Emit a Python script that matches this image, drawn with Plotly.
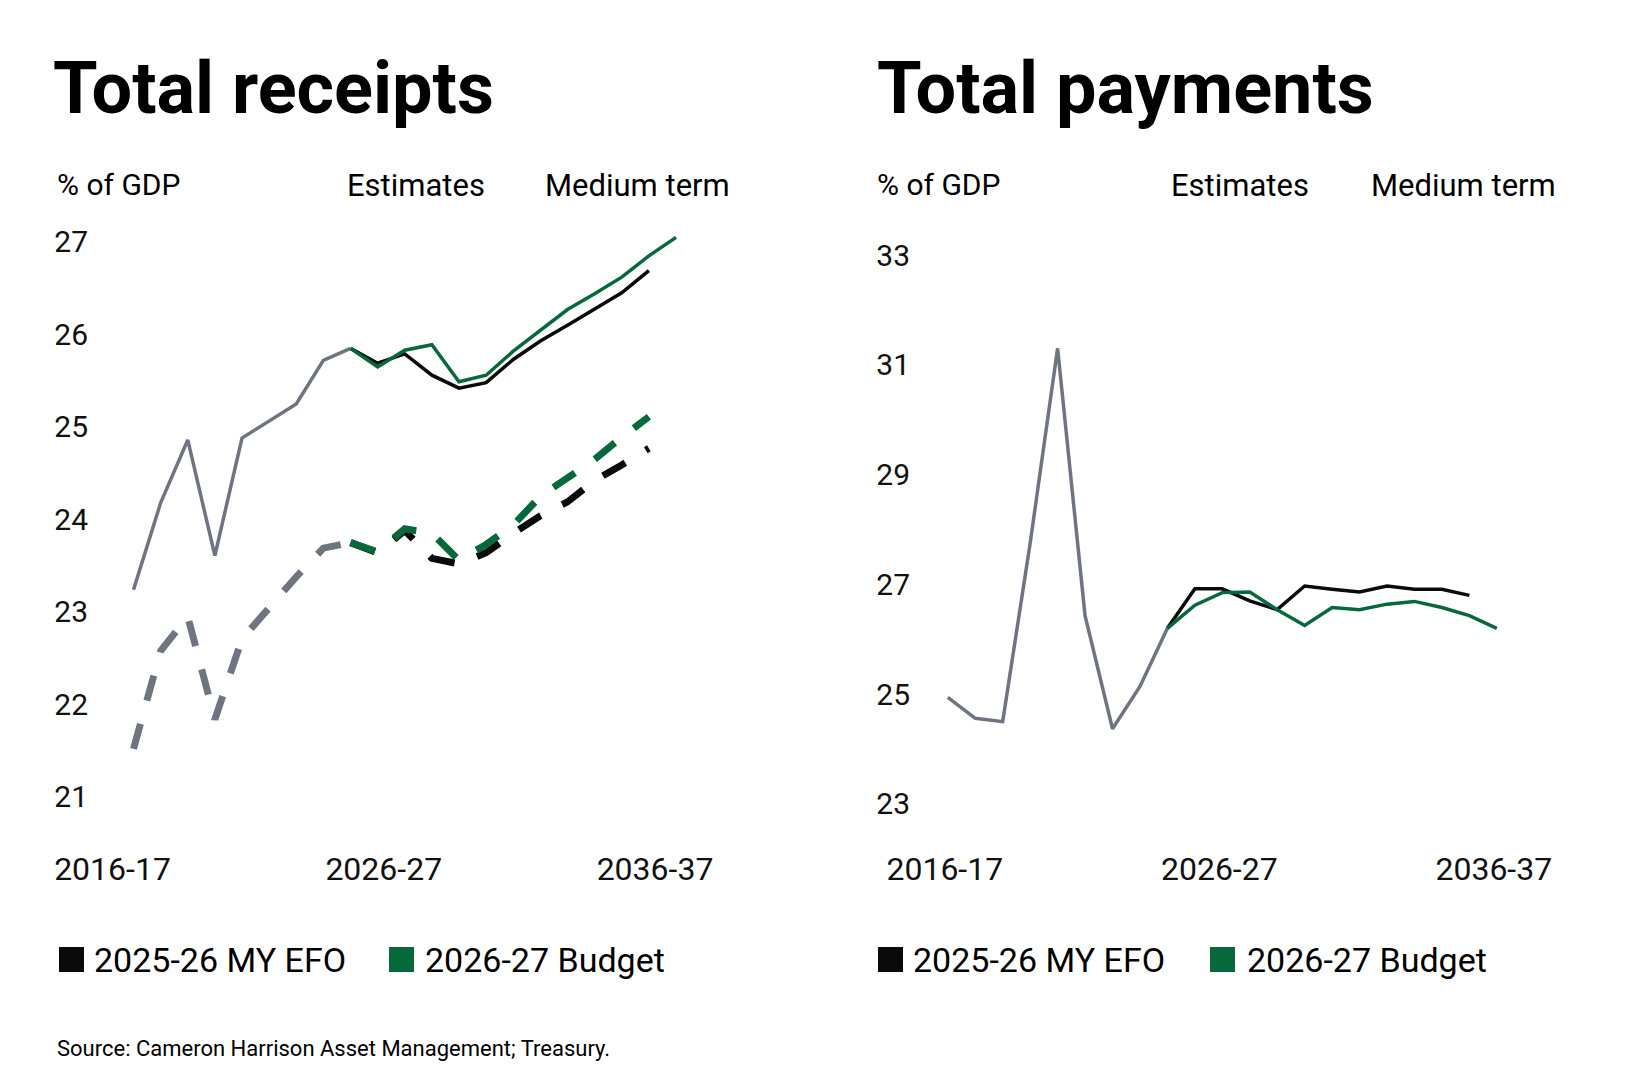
import plotly.graph_objects as go

# Años fiscales (eje x)
years = ["2016-17", "2017-18", "2018-19", "2019-20", "2020-21", "2021-22", "2022-23",
         "2023-24", "2024-25", "2025-26", "2026-27", "2027-28", "2028-29", "2029-30",
         "2030-31", "2031-32", "2032-33", "2033-34", "2034-35", "2035-36", "2036-37"]
x_ticks = ["2016-17", "2026-27", "2036-37"]

# Total receipts (% of GDP) - lineas solidas
receipts_hist = [23.24, 24.18, 24.86, 23.61, 24.88, 25.07, 25.25, 25.72, 25.85]
receipts_myefo = [25.85, 25.69, 25.79, 25.56, 25.42, 25.48, 25.73, 25.93, 26.10, 26.27, 26.45, 26.69]
receipts_budget = [25.85, 25.65, 25.83, 25.89, 25.49, 25.56, 25.82, 26.05, 26.27, 26.44, 26.62, 26.85, 27.05]

# Tax receipts (% of GDP) - lineas discontinuas
tax_hist = [21.52, 22.58, 22.95, 21.84, 22.71, 23.05, 23.38, 23.69, 23.75]
tax_myefo = [23.75, 23.64, 23.88, 23.58, 23.52, 23.64, 23.85, 24.04, 24.19, 24.42, 24.59, 24.77]
tax_budget = [23.75, 23.65, 23.90, 23.85, 23.56, 23.73, 23.94, 24.25, 24.45, 24.65, 24.89, 25.11]

# Total payments (% of GDP)
payments_hist = [24.94, 24.56, 24.50, 27.75, 31.30, 26.43, 24.37, 25.14, 26.20]
payments_myefo = [26.20, 26.92, 26.92, 26.70, 26.54, 26.97, 26.91, 26.86, 26.97, 26.91, 26.91, 26.80]
payments_budget = [26.20, 26.62, 26.85, 26.86, 26.54, 26.25, 26.58, 26.54, 26.64, 26.69, 26.58, 26.43, 26.20]

receipts_ticks = [21, 22, 23, 24, 25, 26, 27]
payments_ticks = [23, 25, 27, 29, 31, 33]

GREY = "#6e7480"
BLACK = "#0a0a0a"
GREEN = "#07693b"
FONT = "Roboto"
W, H = 1640, 1080
OFF = 8  # margen del body de la pagina html


def px(x):
    return (x - OFF) / W


def py(y):
    return 1 - (y - OFF) / H


DASH = "26px,24px"

fig = go.Figure()

# Panel izquierdo
fig.add_trace(go.Scatter(x=years[:9], y=receipts_hist, mode="lines",
                         line=dict(color=GREY, width=3.5), xaxis="x", yaxis="y"))
fig.add_trace(go.Scatter(x=years[:9], y=tax_hist, mode="lines",
                         line=dict(color=GREY, width=7, dash=DASH), xaxis="x", yaxis="y"))
fig.add_trace(go.Scatter(x=years[8:20], y=receipts_myefo, mode="lines",
                         line=dict(color=BLACK, width=3.5), xaxis="x", yaxis="y"))
fig.add_trace(go.Scatter(x=years[8:20], y=tax_myefo, mode="lines",
                         line=dict(color=BLACK, width=7, dash=DASH), xaxis="x", yaxis="y"))
fig.add_trace(go.Scatter(x=years[8:21], y=receipts_budget, mode="lines",
                         line=dict(color=GREEN, width=3.5), xaxis="x", yaxis="y"))
fig.add_trace(go.Scatter(x=years[8:20], y=tax_budget, mode="lines",
                         line=dict(color=GREEN, width=7, dash=DASH), xaxis="x", yaxis="y"))

# Panel derecho
fig.add_trace(go.Scatter(x=years[:9], y=payments_hist, mode="lines",
                         line=dict(color=GREY, width=3.5), xaxis="x2", yaxis="y2"))
fig.add_trace(go.Scatter(x=years[8:20], y=payments_myefo, mode="lines",
                         line=dict(color=BLACK, width=3.5), xaxis="x2", yaxis="y2"))
fig.add_trace(go.Scatter(x=years[8:21], y=payments_budget, mode="lines",
                         line=dict(color=GREEN, width=3.5), xaxis="x2", yaxis="y2"))

xcommon = dict(type="category", categoryorder="array", categoryarray=years,
               tickmode="array", tickvals=x_ticks, ticktext=x_ticks,
               showgrid=False, zeroline=False, showline=False, automargin=False,
               ticks="outside", ticklen=11, tickcolor="rgba(0,0,0,0)",
               tickfont=dict(family=FONT, size=32, color="#111111"))
ycommon = dict(tickmode="array", showgrid=False, zeroline=False, showline=False,
               automargin=False, ticks="",
               tickfont=dict(family=FONT, size=30, color="#111111"))

fig.update_layout(
    width=W, height=H, autosize=False,
    margin=dict(l=0, r=0, t=0, b=0, pad=0),
    paper_bgcolor="white", plot_bgcolor="white",
    showlegend=False,
    xaxis=dict(xcommon, domain=[px(89), px(700)], range=[-1.641, 20.885],
               anchor="y", ticklabelshift=-21),
    yaxis=dict(ycommon, domain=[py(830), py(200)], range=[20.643, 27.454],
               tickvals=receipts_ticks, anchor="x"),
    xaxis2=dict(xcommon, domain=[px(911), px(1560)], range=[-1.341, 22.302],
                anchor="y2", ticklabelshift=-3),
    yaxis2=dict(ycommon, domain=[py(830), py(200)], range=[22.526, 34.002],
                tickvals=payments_ticks, anchor="x2"),
)

annotations = []


def text(x, y, s, size, xanchor="left", bold=False):
    annotations.append(dict(
        x=px(x), y=py(y), xref="paper", yref="paper", text=s, showarrow=False,
        xanchor=xanchor, yanchor="middle",
        font=dict(family=FONT, size=size, color="#000000",
                  weight=700 if bold else 400)))


# Titulos y encabezados
text(51, 88.5, "Total receipts", 72, bold=True)
text(875, 88.5, "Total payments", 72, bold=True)
for x0, est, med in [(55, 416, 637), (875, 1240, 1463)]:
    text(x0, 184, "% of GDP", 30)
    text(est, 185.5, "Estimates", 31, xanchor="center")
    text(med, 185.5, "Medium term", 31, xanchor="center")

# Leyendas (cuadros + texto)
shapes = []
for sx, tx, color, label in [(59, 92, BLACK, "2025-26 MY EFO"),
                             (389, 423, GREEN, "2026-27 Budget"),
                             (878, 911, BLACK, "2025-26 MY EFO"),
                             (1210, 1245, GREEN, "2026-27 Budget")]:
    shapes.append(dict(type="rect", xref="paper", yref="paper",
                       x0=px(sx), x1=px(sx + 25), y0=py(972), y1=py(947),
                       fillcolor=color, line=dict(width=0)))
    text(tx, 960, label, 34)

text(55, 1048, "Source: Cameron Harrison Asset Management; Treasury.", 22)

fig.update_layout(annotations=annotations, shapes=shapes)

fig.write_html("out.html")
